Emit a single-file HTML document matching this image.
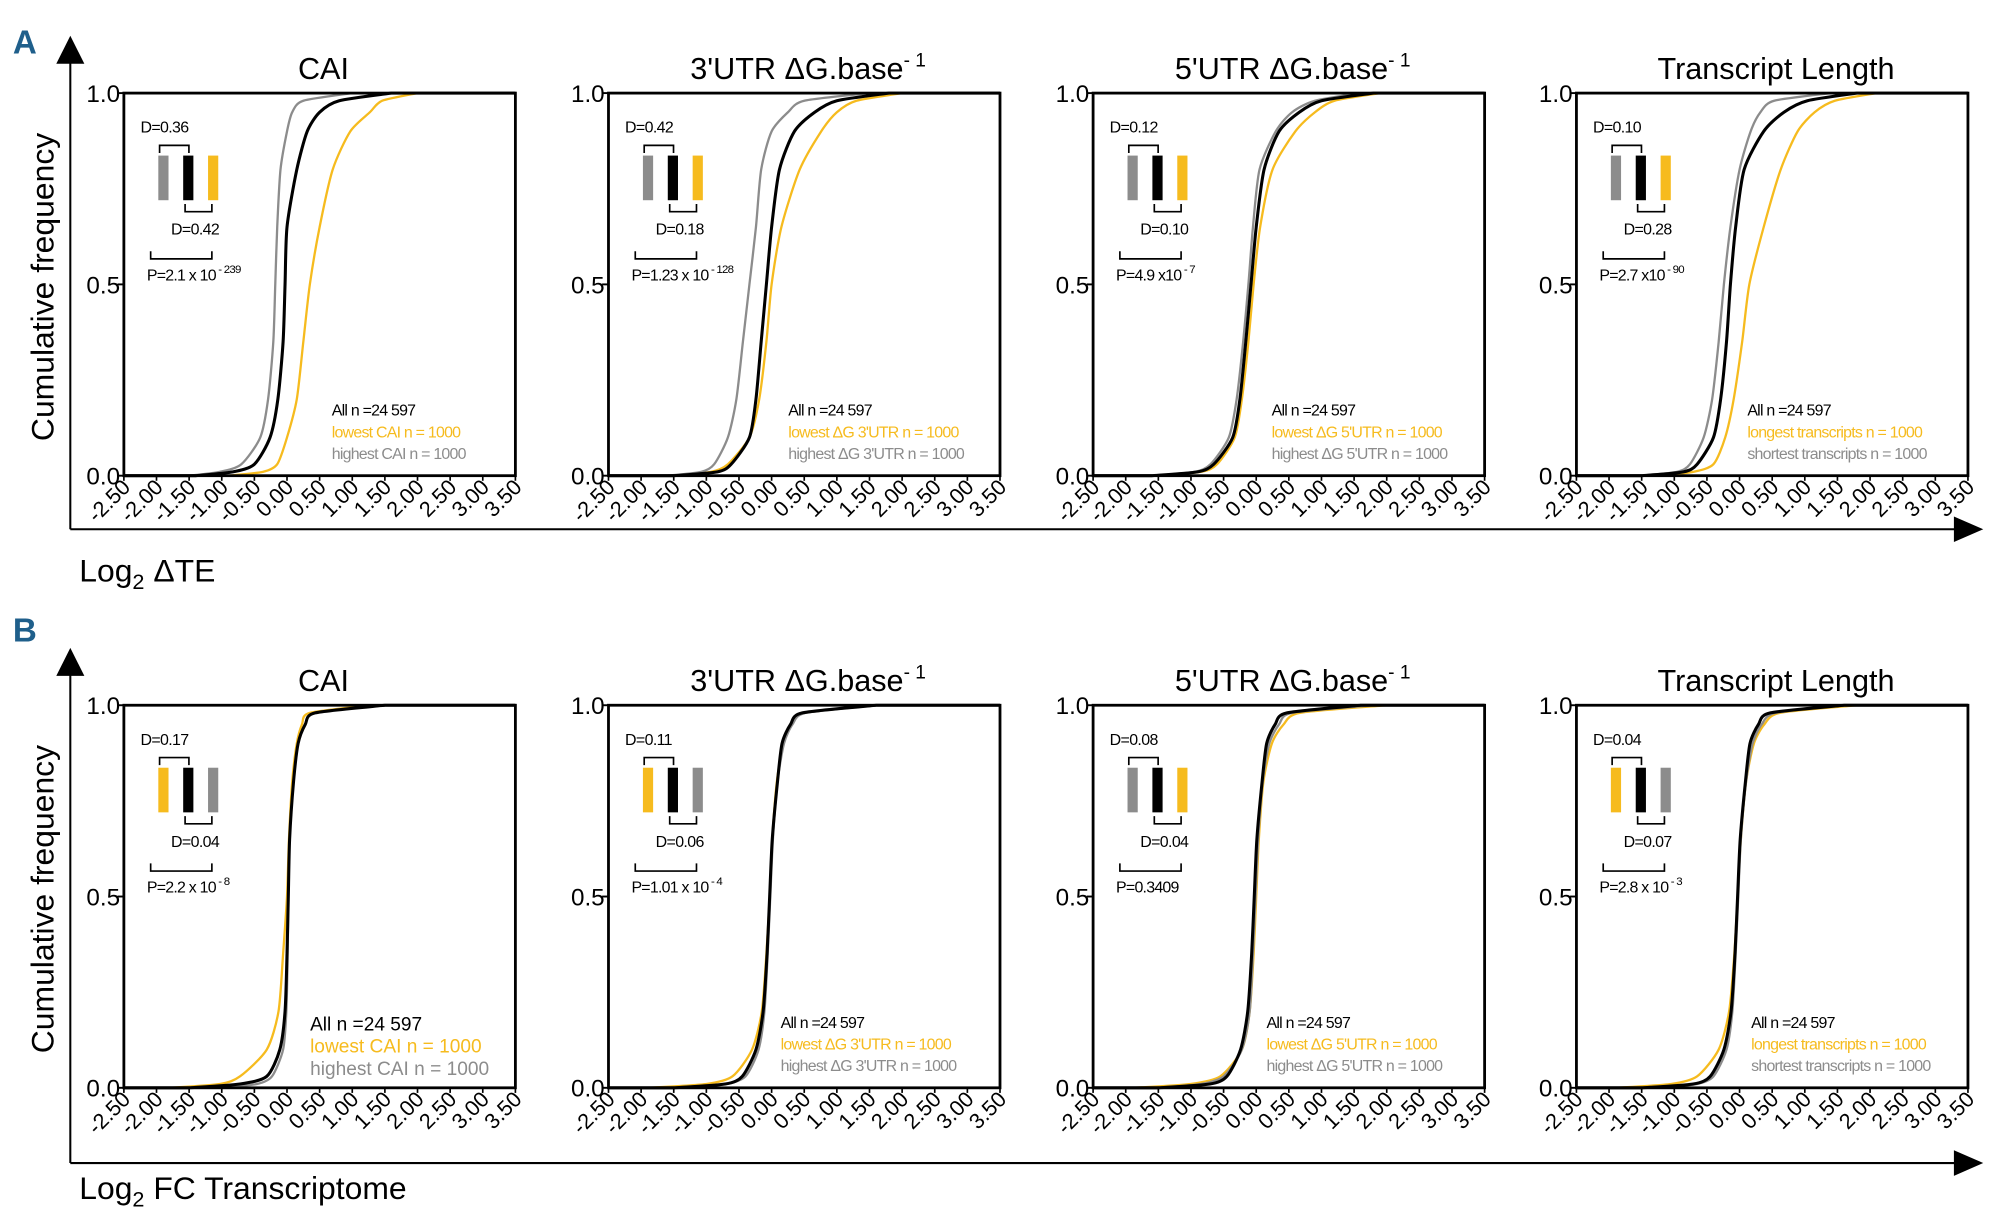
<!DOCTYPE html>
<html><head><meta charset="utf-8"><style>
html,body{margin:0;padding:0;background:#fff}
svg{display:block}
text{font-family:"Liberation Sans",sans-serif}
</style></head><body>
<svg id="fig" width="2000" height="1223" viewBox="0 0 1568 959" xmlns="http://www.w3.org/2000/svg">
<g>
<text x="10" y="42" font-size="26" font-weight="bold" fill="#1f5f8b">A</text>
<line x1="55" y1="44" x2="55" y2="415" stroke="#000" stroke-width="1.6"/>
<polygon points="44,50 66,50 55,28" fill="#000"/>
<line x1="55" y1="415" x2="1535" y2="415" stroke="#000" stroke-width="1.6"/>
<polygon points="1532,405 1532,425 1555,415" fill="#000"/>
<text x="62" y="456" font-size="25">Log<tspan font-size="17" dy="6">2</tspan><tspan dy="-6"> ΔTE</tspan></text>
<text transform="translate(42,225) rotate(-90)" text-anchor="middle" font-size="25">Cumulative frequency</text>
</g>
<g>
<text x="10" y="503" font-size="26" font-weight="bold" fill="#1f5f8b">B</text>
<line x1="55" y1="524" x2="55" y2="912" stroke="#000" stroke-width="1.6"/>
<polygon points="44,530 66,530 55,508" fill="#000"/>
<line x1="55" y1="912" x2="1535" y2="912" stroke="#000" stroke-width="1.6"/>
<polygon points="1532,902 1532,922 1555,912" fill="#000"/>
<text x="62" y="940" font-size="25">Log<tspan font-size="17" dy="6">2</tspan><tspan dy="-6"> FC Transcriptome</tspan></text>
<text transform="translate(42,705) rotate(-90)" text-anchor="middle" font-size="25">Cumulative frequency</text>
</g>
</svg>
<script>
const quantiles=[0,0.01,0.03,0.1,0.2,0.35,0.5,0.65,0.8,0.9,0.95,0.98,1];
const xTicks=[-2.5,-2,-1.5,-1,-0.5,0,0.5,1,1.5,2,2.5,3,3.5];
const xTickLabels=["-2.50","-2.00","-1.50","-1.00","-0.50","0.00","0.50","1.00","1.50","2.00","2.50","3.00","3.50"];
const yTicks=[0,0.5,1];
const yTickLabels=["0.0","0.5","1.0"];
const panelTitles=["CAI","3'UTR ΔG.base","5'UTR ΔG.base","Transcript Length","CAI","3'UTR ΔG.base","5'UTR ΔG.base","Transcript Length"];
const A1_black=[-1.4,-0.83,-0.5,-0.26,-0.14,-0.06,-0.03,0.0,0.15,0.31,0.5,0.8,1.6];
const A1_gray=[-1.5,-1.03,-0.7,-0.41,-0.29,-0.21,-0.18,-0.15,-0.1,0.0,0.08,0.25,1.0];
const A1_yellow=[-0.9,-0.37,-0.15,0.0,0.15,0.25,0.35,0.5,0.7,0.97,1.27,1.46,2.0];
const A2_black=[-1.5,-0.83,-0.62,-0.34,-0.24,-0.16,-0.08,0.0,0.12,0.35,0.66,1.0,1.8];
const A2_gray=[-1.6,-1.08,-0.88,-0.67,-0.54,-0.44,-0.34,-0.24,-0.16,0.0,0.25,0.5,1.5];
const A2_yellow=[-1.5,-0.93,-0.67,-0.34,-0.19,-0.08,0.0,0.15,0.43,0.76,1.0,1.3,2.0];
const A3_black=[-1.6,-0.9,-0.65,-0.36,-0.25,-0.16,-0.08,0.0,0.12,0.35,0.66,1.0,1.8];
const A3_gray=[-1.6,-0.95,-0.7,-0.42,-0.3,-0.2,-0.12,-0.05,0.05,0.3,0.55,0.9,1.6];
const A3_yellow=[-1.6,-0.85,-0.6,-0.33,-0.22,-0.12,-0.04,0.06,0.25,0.6,0.9,1.2,1.9];
const A4_black=[-1.5,-0.86,-0.65,-0.4,-0.29,-0.2,-0.14,-0.06,0.07,0.37,0.68,1.04,1.8];
const A4_gray=[-1.5,-0.96,-0.76,-0.55,-0.42,-0.32,-0.24,-0.14,0.0,0.17,0.32,0.53,1.4];
const A4_yellow=[-1.2,-0.71,-0.4,-0.22,-0.09,0.04,0.15,0.37,0.63,0.89,1.15,1.46,2.1];
const B1_black=[-1.5,-0.72,-0.31,-0.11,-0.03,0.0,0.02,0.04,0.1,0.17,0.28,0.43,1.5];
const B1_gray=[-1.0,-0.46,-0.23,-0.06,-0.01,0.01,0.02,0.04,0.1,0.17,0.28,0.43,1.5];
const B1_yellow=[-1.8,-1.03,-0.72,-0.31,-0.13,-0.06,0.0,0.03,0.08,0.15,0.23,0.35,1.3];
const B2_black=[-1.5,-0.71,-0.45,-0.24,-0.13,-0.07,-0.03,0.01,0.09,0.16,0.29,0.47,1.6];
const B2_gray=[-1.3,-0.7,-0.4,-0.2,-0.11,-0.06,-0.02,0.02,0.09,0.19,0.32,0.52,1.6];
const B2_yellow=[-1.9,-1.0,-0.6,-0.3,-0.15,-0.08,-0.03,0.01,0.08,0.18,0.3,0.5,1.6];
const B3_black=[-1.5,-0.71,-0.45,-0.24,-0.13,-0.07,-0.03,0.01,0.09,0.16,0.29,0.47,1.6];
const B3_gray=[-1.5,-0.85,-0.5,-0.22,-0.1,-0.05,-0.01,0.03,0.1,0.2,0.35,0.55,1.8];
const B3_yellow=[-1.9,-1.01,-0.55,-0.22,-0.1,-0.04,0.0,0.04,0.11,0.24,0.42,0.67,2.0];
const B4_black=[-1.5,-0.71,-0.45,-0.24,-0.13,-0.07,-0.03,0.01,0.09,0.16,0.29,0.47,1.6];
const B4_gray=[-1.2,-0.65,-0.4,-0.2,-0.11,-0.06,-0.02,0.02,0.1,0.2,0.34,0.55,1.6];
const B4_yellow=[-1.9,-1.05,-0.65,-0.32,-0.16,-0.08,-0.03,0.02,0.1,0.22,0.38,0.62,1.8];
const upperD=["0.36","0.42","0.12","0.10","0.17","0.11","0.08","0.04"];
const lowerD=["0.42","0.18","0.10","0.28","0.04","0.06","0.04","0.07"];
const pMant=["P=2.1 x 10","P=1.23 x 10","P=4.9 x10","P=2.7 x10","P=2.2 x 10","P=1.01 x 10","P=0.3409","P=2.8 x 10"];
const pExp=[" - 239"," - 128"," - 7"," - 90"," - 8"," - 4",""," - 3"];
const lowestLbl=["lowest CAI n = 1000","lowest ΔG 3'UTR n = 1000","lowest ΔG 5'UTR n = 1000","longest transcripts n = 1000","lowest CAI n = 1000","lowest ΔG 3'UTR n = 1000","lowest ΔG 5'UTR n = 1000","longest transcripts n = 1000"];
const highestLbl=["highest CAI  n = 1000","highest ΔG 3'UTR  n = 1000","highest ΔG 5'UTR  n = 1000","shortest transcripts  n = 1000","highest CAI   n = 1000","highest ΔG 3'UTR  n = 1000","highest ΔG 5'UTR  n = 1000","shortest transcripts  n = 1000"];

const NS="http://www.w3.org/2000/svg";
const svg=document.getElementById('fig');
const COL={black:"#000",gray:"#8c8c8c",yellow:"#f6bb1e"};
const series=[[A1_black,A1_gray,A1_yellow],[A2_black,A2_gray,A2_yellow],[A3_black,A3_gray,A3_yellow],[A4_black,A4_gray,A4_yellow],
[B1_black,B1_gray,B1_yellow],[B2_black,B2_gray,B2_yellow],[B3_black,B3_gray,B3_yellow],[B4_black,B4_gray,B4_yellow]];
const barOrder=[["gray","black","yellow"],["gray","black","yellow"],["gray","black","yellow"],["gray","black","yellow"],
["yellow","black","gray"],["yellow","black","gray"],["gray","black","yellow"],["yellow","black","gray"]];
const lefts=[97,477,857,1236];
const legOff=[163,141,140,134,146,135,136,137];
function mk(tag,attrs,parent){const e=document.createElementNS(NS,tag);for(const k in attrs)e.setAttribute(k,attrs[k]);(parent||svg).appendChild(e);return e;}
function smoothPath(pts){let d="M"+pts[0][0]+","+pts[0][1];for(let i=0;i<pts.length-1;i++){const p0=pts[Math.max(0,i-1)],p1=pts[i],p2=pts[i+1],p3=pts[Math.min(pts.length-1,i+2)];
const c1=[p1[0]+(p2[0]-p0[0])/8,p1[1]+(p2[1]-p0[1])/8],c2=[p2[0]-(p3[0]-p1[0])/8,p2[1]-(p3[1]-p1[1])/8];
d+=" C"+c1[0].toFixed(2)+","+c1[1].toFixed(2)+" "+c2[0].toFixed(2)+","+c2[1].toFixed(2)+" "+p2[0].toFixed(2)+","+p2[1].toFixed(2);}return d;}

for(let p=0;p<8;p++){
  const L=lefts[p%4],W=307,T=p<4?73:553,H=300,B=T+H;
  const sx=v=>L+(v-xTicks[0])/(xTicks[xTicks.length-1]-xTicks[0])*W;
  const sy=v=>B-v*H;
  const g=mk('g',{});
  
  
  const t=mk('text',{x:L+W/2+3,y:T-11,'text-anchor':'middle','font-size':24},g);
  
  
  t.textContent=panelTitles[p];
  if(p%4===1||p%4===2){const s=mk('tspan',{dy:-10,'font-size':15},t);s.textContent="- 1";}
  const names=["black","gray","yellow"];
  [2,1,0].forEach(si=>{
    const arr=series[p][si];
    const pts=[[sx(arr[0]),sy(0)]];
    for(let i=1;i<arr.length;i++)pts.push([sx(arr[i]),sy(quantiles[i])]);
    let d="M"+sx(xTicks[0])+","+sy(0)+" L"+smoothPath(pts).slice(1)+" L"+sx(xTicks[xTicks.length-1])+","+sy(1);
    const path=mk('path',{d:d,fill:'none',stroke:COL[names[si]],'stroke-width':si===0?2.4:1.8},g);
    
    
  });
  const box=mk('rect',{x:L,y:T,width:W,height:H,fill:'none',stroke:'#000','stroke-width':2.2},g);
  
  
  yTicks.forEach((v,i)=>{
    mk('line',{x1:L-5,x2:L,y1:sy(v),y2:sy(v),stroke:'#000','stroke-width':1.5},g);
    const tl=mk('text',{x:L-3,y:sy(v)+7,'text-anchor':'end','font-size':19},g);
    
    
    tl.textContent=yTickLabels[i];
  });
  xTicks.forEach((v,i)=>{
    mk('line',{x1:sx(v),x2:sx(v),y1:B,y2:B+4,stroke:'#000','stroke-width':1.3},g);
    const tl=mk('text',{x:0,y:0,'text-anchor':'end','font-size':17,transform:'translate('+(sx(v)+6)+','+(B+10)+') rotate(-45)'},g);
    
    
    tl.textContent=xTickLabels[i];
  });
  const ins=mk('g',{},g);
  
  
  const ty=T;
  const d1=mk('text',{x:L+13,y:ty+31,'font-size':12.5,'letter-spacing':-0.5},ins);d1.textContent="D="+upperD[p];
  mk('path',{d:`M${L+28},${ty+47} V${ty+41} H${L+51} V${ty+47}`,fill:'none',stroke:'#000','stroke-width':1.3},ins);
  barOrder[p].forEach((c,i)=>{
    const bar=mk('rect',{x:L+27+i*19.5,y:ty+49,width:8,height:35,fill:COL[c]},ins);
    
    
  });
  mk('path',{d:`M${L+48},${ty+87} V${ty+93} H${L+69} V${ty+87}`,fill:'none',stroke:'#000','stroke-width':1.3},ins);
  const d2=mk('text',{x:L+37,y:ty+111,'font-size':12.5,'letter-spacing':-0.5},ins);d2.textContent="D="+lowerD[p];
  mk('path',{d:`M${L+21},${ty+124} V${ty+130} H${L+69} V${ty+124}`,fill:'none',stroke:'#000','stroke-width':1.3},ins);
  const pt=mk('text',{x:L+18,y:ty+147,'font-size':12.5,'letter-spacing':-0.6},ins);pt.textContent=pMant[p];
  if(pExp[p]){const s=mk('tspan',{dy:-6,'font-size':9},pt);s.textContent=pExp[p];}
  const lx=L+legOff[p],fs=p===4?15:12.5,ls=p===4?0:-0.6;
  const lg=mk('g',{},g);
  
  
  const rows=[["All n =24 597","#000"],[lowestLbl[p],COL.yellow],[highestLbl[p],COL.gray]];
  rows.forEach((r,i)=>{
    const e=mk('text',{x:lx,y:T+(p===4?255:253)+i*(p===4?17.5:17),'font-size':fs,fill:r[1],'letter-spacing':ls},lg);
    
    
    e.textContent=r[0];
  });
}
</script>
</body></html>
